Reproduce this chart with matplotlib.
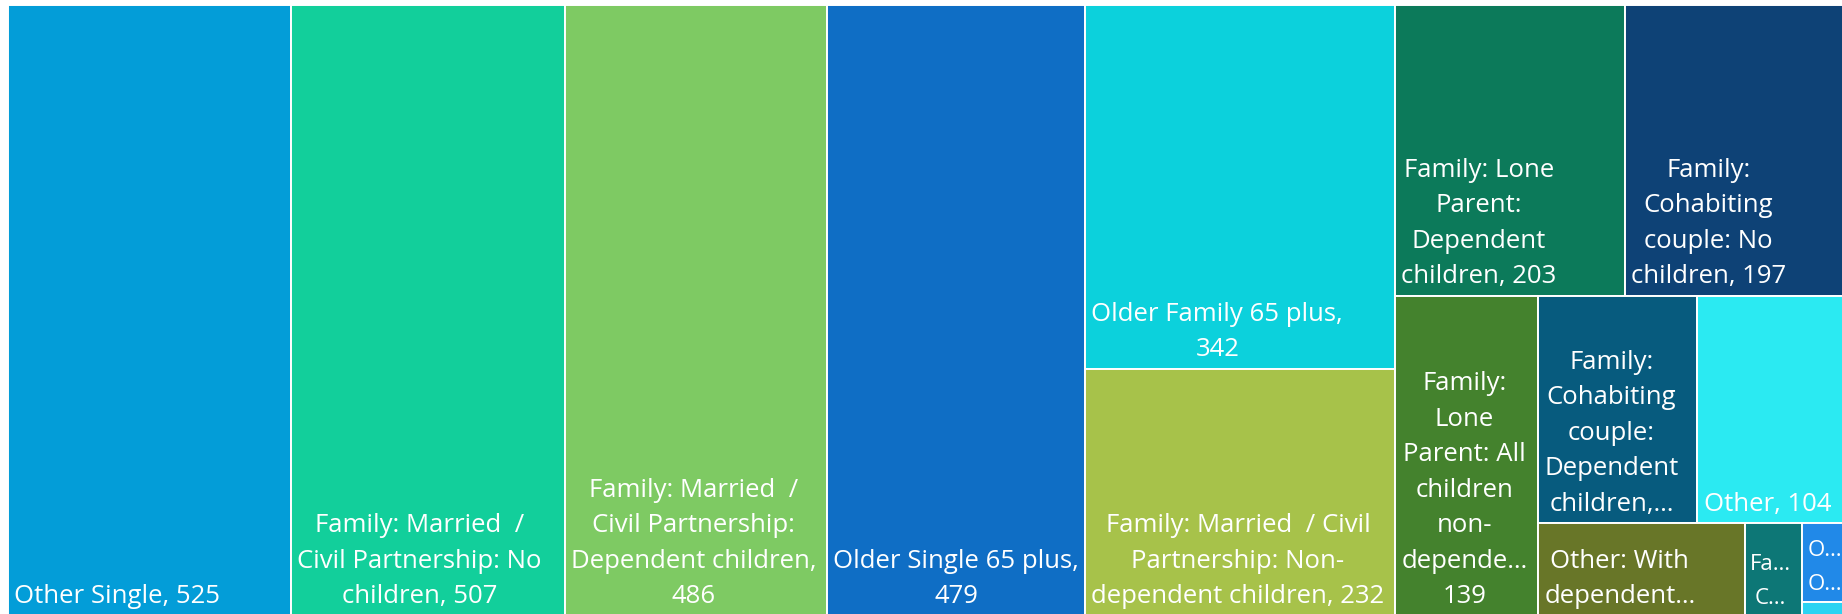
import matplotlib.pyplot as plt
from matplotlib.patches import Rectangle

# household types, counts and colours (largest first)
names = [
    "Other Single, {v}",
    "Family: Married  /\nCivil Partnership: No\nchildren, {v}",
    "Family: Married  /\nCivil Partnership:\nDependent children,\n{v}",
    "Older Single 65 plus,\n{v}",
    "Older Family 65 plus,\n{v}",
    "Family: Married  / Civil\nPartnership: Non-\ndependent children, {v}",
    "Family: Lone\nParent:\nDependent\nchildren, {v}",
    "Family:\nCohabiting\ncouple: No\nchildren, {v}",
    "Family:\nLone\nParent: All\nchildren\nnon-\ndepende\u2026\n{v}",
    "Family:\nCohabiting\ncouple:\nDependent\nchildren,\u2026",
    "Other, {v}",
    "Other: With\ndependent\u2026",
    "Fa\u2026\nC\u2026",
    "O\u2026\nO\u2026",
    "",
]
values = [525, 507, 486, 479, 342, 232, 203, 197, 139, 110, 104, 58, 16, 11, 2]
colors = [
    "#039dd8", "#12cf9b", "#7eca63", "#0f6ec5", "#0cd1dc", "#a7c24a",
    "#0c7a5a", "#0e4276", "#44822d", "#075b7e", "#2beaf2", "#687628",
    "#0d7776", "#2189e8", "#2bd3f2",
]

# how the cells are nested: "h" splits left to right, "v" splits top to bottom
layout = ("h", [0, 1, 2, 3, ("v", [4, 5]),
                ("v", [("h", [6, 7]),
                       ("h", [8, ("v", [("h", [9, 10]),
                                        ("h", [11, 12, ("v", [13, 14])])])])])])


def node_total(node):
    if isinstance(node, int):
        return values[node]
    return sum(node_total(c) for c in node[1])


def place(node, x, y, w, h, out):
    if isinstance(node, int):
        out[node] = (x, y, w, h)
        return
    direction, children = node
    total = node_total(node)
    for child in children:
        frac = node_total(child) / total
        if direction == "h":
            place(child, x, y, w * frac, h, out)
            x += w * frac
        else:
            place(child, x, y, w, h * frac, out)
            y += h * frac


cells = {}
place(layout, 0.0, 0.0, 1.0, 1.0, cells)

fig = plt.figure(figsize=(18.42, 6.14), dpi=100)
ax = fig.add_axes([8 / 1842, -2 / 614, 1840 / 1842, 611 / 614])
ax.set_xlim(0, 1)
ax.set_ylim(1, 0)
ax.axis("off")

for i, (x, y, w, h) in cells.items():
    rect = Rectangle((x, y), w, h, facecolor=colors[i], edgecolor="white", linewidth=1.4)
    ax.add_patch(rect)
    if not names[i]:
        continue
    # very narrow cells get a slightly smaller font so the ellipsis stays visible
    small = w * 1840 < 60
    t = ax.annotate(
        names[i].format(v=values[i]),
        xy=(x, y + h),
        xytext=(4 if small else 4.5, 5),
        textcoords="offset points",
        ha="left",
        va="bottom",
        multialignment="center",
        color="white",
        fontsize=16 if small else 18.5,
        family=["Open Sans", "DejaVu Sans"],
        linespacing=1.8 if small else 1.55,
    )
    t.set_clip_path(rect)

fig.savefig("out.png", dpi=100)
